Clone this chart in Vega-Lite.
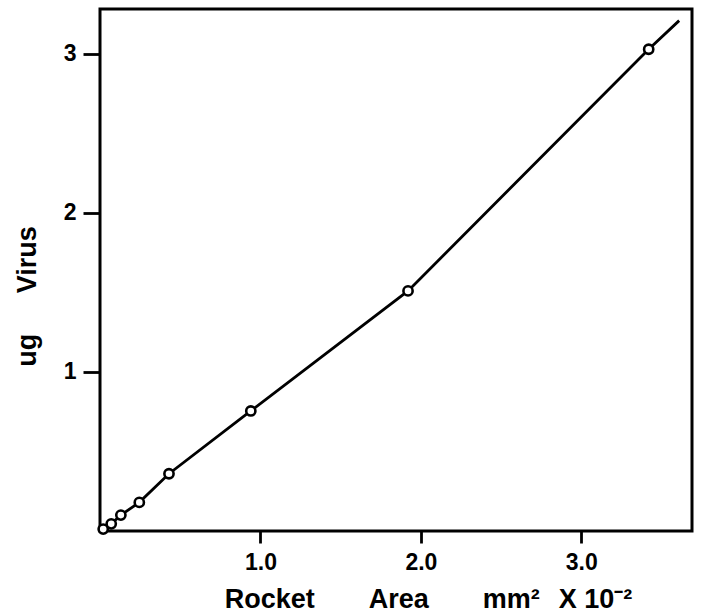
{
  "$schema": "https://vega.github.io/schema/vega-lite/v6.json",
  "width": 592,
  "height": 522,
  "autosize": {"type": "none"},
  "padding": {"left": 100, "top": 9, "right": 9, "bottom": 84},
  "background": "white",
  "config": {
    "view": {"stroke": "black", "strokeWidth": 3},
    "font": "Liberation Sans"
  },
  "datasets": {
    "pts": [
      {"area": 0.02, "virus": 0.012},
      {"area": 0.07, "virus": 0.045},
      {"area": 0.13, "virus": 0.10},
      {"area": 0.245, "virus": 0.18},
      {"area": 0.43, "virus": 0.36},
      {"area": 0.94, "virus": 0.755},
      {"area": 1.92, "virus": 1.51},
      {"area": 3.42, "virus": 3.03}
    ],
    "fit": [
      {"area": 0.0, "virus": 0.0},
      {"area": 0.02, "virus": 0.012},
      {"area": 0.07, "virus": 0.045},
      {"area": 0.13, "virus": 0.10},
      {"area": 0.245, "virus": 0.18},
      {"area": 0.43, "virus": 0.36},
      {"area": 0.94, "virus": 0.755},
      {"area": 1.92, "virus": 1.51},
      {"area": 3.42, "virus": 3.03},
      {"area": 3.61, "virus": 3.21}
    ]
  },
  "layer": [
    {
      "data": {"name": "fit"},
      "mark": {"type": "line", "color": "black", "strokeWidth": 2.8},
      "encoding": {
        "x": {
          "field": "area", "type": "quantitative",
          "scale": {"domain": [0, 3.69], "nice": false, "zero": false},
          "axis": {
            "values": [1, 2, 3], "format": ".1f", "grid": false, "domain": false,
            "tickColor": "black", "tickWidth": 2.8, "tickSize": 12,
            "labelFont": "Liberation Sans", "labelFontWeight": "bold", "labelFontSize": 23,
            "labelColor": "black", "labelPadding": 8,
            "title": "Rocket\u2003\u2003Area\u2003\u2003mm²\u2002\u2009X 10⁻²",
            "titleFont": "Liberation Sans", "titleFontWeight": "bold", "titleFontSize": 27,
            "titleColor": "black", "titleX": 328, "titleY": 76, "titleBaseline": "alphabetic"
          }
        },
        "y": {
          "field": "virus", "type": "quantitative",
          "scale": {"domain": [0, 3.283], "nice": false, "zero": false},
          "axis": {
            "values": [1, 2, 3], "format": "d", "grid": false, "domain": false,
            "tickColor": "black", "tickWidth": 2.8, "tickSize": 17,
            "labelFont": "Liberation Sans", "labelFontWeight": "bold", "labelFontSize": 23,
            "labelColor": "black", "labelPadding": 7,
            "title": "ug\u2003\u2002Virus",
            "titleFont": "Liberation Sans", "titleFontWeight": "bold", "titleFontSize": 27,
            "titleColor": "black", "titleX": -73, "titleY": 287,
            "titleAlign": "center", "titleBaseline": "middle", "titleAngle": -90
          }
        },
        "order": {"field": "area", "type": "quantitative"}
      }
    },
    {
      "data": {"name": "pts"},
      "mark": {"type": "point", "shape": "circle", "filled": true, "fill": "white", "stroke": "black", "strokeWidth": 2.6, "size": 85, "opacity": 1},
      "encoding": {
        "x": {"field": "area", "type": "quantitative"},
        "y": {"field": "virus", "type": "quantitative"}
      }
    }
  ]
}
